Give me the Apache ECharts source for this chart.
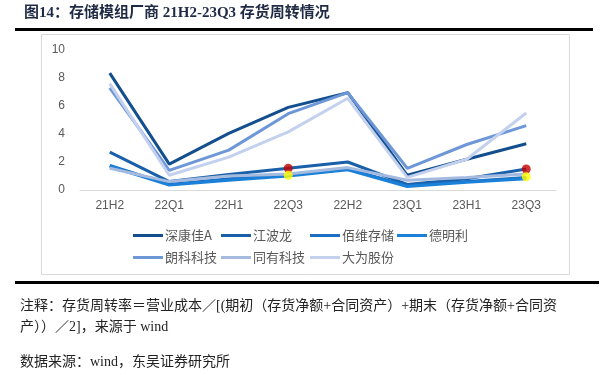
<!DOCTYPE html>
<html>
<head>
<meta charset="utf-8">
<script src="https://cdn.jsdelivr.net/npm/echarts@6/dist/echarts.min.js"></script>
<style>
html,body{margin:0;padding:0;background:#fff;}
#main{width:606px;height:375px;}
</style>
</head>
<body>
<div id="main"></div>
<script>
var categories = ['21H2','22Q1','22H1','22Q3','22H2','23Q1','23H1','23Q3'];
var names = ['深康佳A','江波龙','佰维存储','德明利','朗科科技','同有科技','大为股份'];
var kangjia  = [8.35, 1.85, 4.05, 5.9, 6.95, 1.05, 2.2, 3.3];
var jiangbolong = [2.7, 0.6, 1.1, 1.55, 2.0, 0.4, 0.8, 1.5];
var baiwei   = [1.75, 0.4, 0.8, 1.05, 1.5, 0.3, 0.6, 0.9];
var deming   = [1.7, 0.35, 0.7, 1.0, 1.45, 0.25, 0.55, 0.8];
var langke   = [7.3, 1.4, 2.85, 5.45, 6.95, 1.55, 3.25, 4.6];
var tongyou  = [1.55, 0.6, 1.0, 1.15, 1.6, 0.7, 0.9, 1.15];
var dawei    = [7.6, 1.05, 2.35, 4.15, 6.55, 0.9, 2.2, 5.5];
var redDots  = ['-','-','-',1.55,'-','-','-',1.5];
var yellowDots = ['-','-','-',1.05,'-','-','-',0.95];
var yTicks = [0,2,4,6,8,10];

var colors = ['#134f8f','#1a60a9','#1b6ec2','#1b80d8','#6e97d8','#a5badf','#c3d1ee'];
var values = [kangjia, jiangbolong, baiwei, deming, langke, tongyou, dawei];

var chart = echarts.init(document.getElementById('main'));

var series = [];
for (var i = 0; i < names.length; i++) {
  series.push({
    name: names[i],
    type: 'line',
    data: values[i],
    symbol: 'none',
    lineStyle: {width: 3, color: colors[i]},
    itemStyle: {color: colors[i]}
  });
}
series.push({type:'scatter', data: redDots, symbolSize: 9, itemStyle:{color:'#c00000'}, z: 5});
series.push({type:'scatter', data: yellowDots, symbolSize: 9, itemStyle:{color:'#ffff00'}, z: 5});

// legend positions (two rows)
var legendLeft = [133, 221, 310, 397, 133, 221, 310];
var legendTop = [229, 229, 229, 229, 251, 251, 251];
var legends = [];
for (var j = 0; j < names.length; j++) {
  legends.push({
    data: [names[j]],
    left: legendLeft[j],
    top: legendTop[j],
    itemWidth: 30,
    itemHeight: 3,
    itemGap: 0,
    padding: 0,
    icon: 'rect',
    textStyle: {fontSize: 13, color: '#595959', fontFamily: 'Noto Sans CJK SC', padding: [0,0,0,-3]}
  });
}

var serifFont = '"Liberation Serif", "Noto Sans CJK SC", serif';

chart.setOption({
  animation: false,
  backgroundColor: '#fff',
  grid: {left: 80, width: 476, top: 50, height: 140},
  legend: legends,
  xAxis: {
    type: 'category',
    data: categories,
    boundaryGap: true,
    axisLine: {lineStyle: {color: '#d9d9d9', width: 1}},
    axisTick: {show: false},
    axisLabel: {color: '#595959', fontSize: 12, fontFamily: 'Liberation Sans', margin: 10}
  },
  yAxis: {
    type: 'value',
    min: yTicks[0],
    max: yTicks[yTicks.length - 1],
    interval: 2,
    axisLine: {show: false},
    axisTick: {show: false},
    splitLine: {show: false},
    axisLabel: {color: '#595959', fontSize: 12, fontFamily: 'Liberation Sans', margin: 15}
  },
  series: series,
  graphic: [
    {type: 'text', left: 24, top: 6, style: {text: '图14：存储模组厂商 21H2-23Q3 存货周转情况', font: 'bold 15px ' + serifFont, fill: '#1f2a44'}},
    {type: 'rect', shape: {x: 15, y: 28, width: 578, height: 3}, style: {fill: '#000'}},
    {type: 'rect', shape: {x: 41.5, y: 34.5, width: 528, height: 240}, style: {fill: 'none', stroke: '#d9d9d9', lineWidth: 1}, z: -1},
    {type: 'rect', shape: {x: 15, y: 281, width: 584, height: 3}, style: {fill: '#000'}},
    {type: 'text', left: 20, top: 299, style: {text: '注释：存货周转率＝营业成本／[(期初（存货净额+合同资产）+期末（存货净额+合同资', font: '14px ' + serifFont, fill: '#222'}},
    {type: 'text', left: 20, top: 320, style: {text: '产））／2]，来源于 wind', font: '14px ' + serifFont, fill: '#222'}},
    {type: 'text', left: 20, top: 355, style: {text: '数据来源：wind，东吴证券研究所', font: '14px ' + serifFont, fill: '#222'}}
  ]
});
</script>
</body>
</html>
